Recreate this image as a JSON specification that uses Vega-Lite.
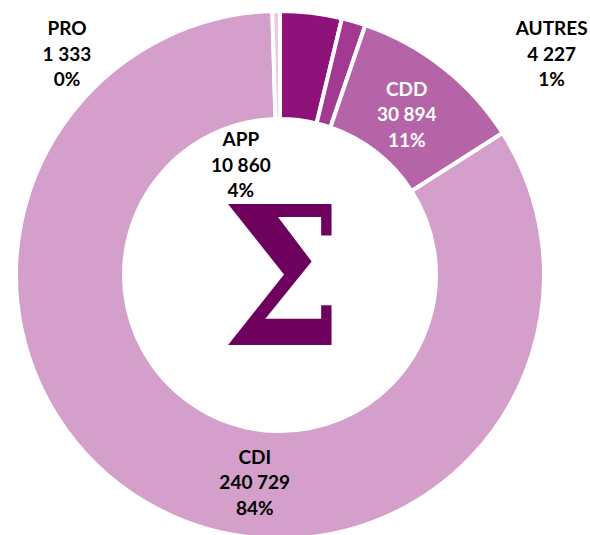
{
  "$schema": "https://vega.github.io/schema/vega-lite/v6.json",
  "width": 560,
  "height": 550,
  "padding": {"left": 0, "top": 0, "right": 30, "bottom": 0},
  "autosize": {"type": "none"},
  "background": "white",
  "config": {"view": {"stroke": null}},
  "data": {
    "values": [
      {"cat": "APP", "value": 10860, "label": "APP\n10 860\n4%"},
      {"cat": "AUTRES", "value": 4227, "label": "AUTRES\n4 227\n1%"},
      {"cat": "CDD", "value": 30894, "label": "CDD\n30 894\n11%"},
      {"cat": "CDI", "value": 240729, "label": "CDI\n240 729\n84%"},
      {"cat": "PRO", "value": 1333, "label": "PRO\n1 333\n0%"}
    ]
  },
  "layer": [
    {
      "mark": {"type": "arc", "outerRadius": 264, "innerRadius": 156, "stroke": "white", "strokeWidth": 4},
      "encoding": {
        "theta": {"field": "value", "type": "quantitative", "stack": true},
        "order": {"field": "cat", "sort": "ascending"},
        "color": {
          "field": "cat",
          "type": "nominal",
          "scale": {
            "domain": ["APP", "AUTRES", "CDD", "CDI", "PRO"],
            "range": ["#8E1279", "#A33A92", "#B565A7", "#D4A0CB", "#E9C9E4"]
          },
          "legend": null
        }
      }
    },
    {
      "mark": {
        "type": "text",
        "radius": 210,
        "font": "Lato",
        "fontWeight": "bold",
        "fontSize": 19,
        "lineBreak": "\n",
        "lineHeight": 25.5,
        "align": "center",
        "baseline": "middle",
        "dx": {"expr": "datum.cat === 'APP' ? -64 : datum.cat === 'AUTRES' ? 213 : datum.cat === 'CDD' ? -3 : datum.cat === 'CDI' ? 73 : -210"},
        "dy": {"expr": "datum.cat === 'APP' ? 74 : datum.cat === 'AUTRES' ? -44 : datum.cat === 'CDD' ? -20 : datum.cat === 'CDI' ? -3 : -36"}
      },
      "encoding": {
        "theta": {"field": "value", "type": "quantitative", "stack": true},
        "order": {"field": "cat", "sort": "ascending"},
        "text": {"field": "label", "type": "nominal"},
        "color": {"condition": {"test": "datum.cat === 'CDD'", "value": "white"}, "value": "black"}
      }
    },
    {
      "data": {"values": [{"sym": "Σ"}]},
      "mark": {
        "type": "text",
        "font": "DejaVu Serif Condensed, DejaVu Serif",
        "fontWeight": "bold",
        "fontSize": 192,
        "align": "center",
        "baseline": "alphabetic",
        "dy": 70,
        "dx": 2,
        "color": "#6E005E"
      },
      "encoding": {"text": {"field": "sym", "type": "nominal"}}
    }
  ]
}
